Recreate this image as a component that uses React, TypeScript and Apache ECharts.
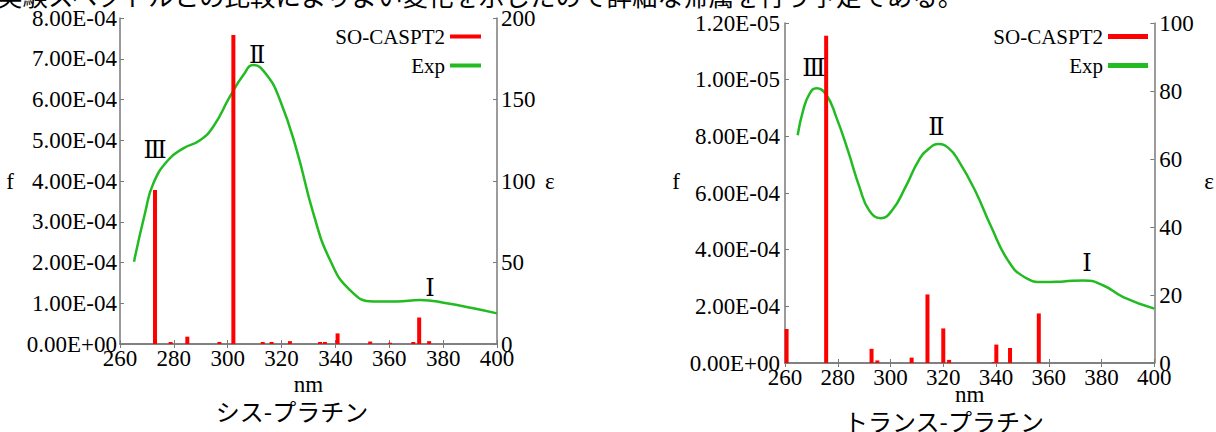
import React, { useEffect, useRef } from "react";
import * as echarts from "echarts";

// ---------- text ----------
const headerText = "実験スペクトルとの比較によりよい変化を示したので詳細な帰属を行う予定である。";
const cisTitle = "シス-プラチン";
const transTitle = "トランス-プラチン";
const seriesNames = ["SO-CASPT2", "Exp"];
const bandNames = ["Ⅲ", "Ⅱ", "Ⅰ"];

// ---------- tick labels ----------
const nmTickLabels = ["260", "280", "300", "320", "340", "360", "380", "400"];
const cisFTickLabels = ["0.00E+00", "1.00E-04", "2.00E-04", "3.00E-04", "4.00E-04", "5.00E-04", "6.00E-04", "7.00E-04", "8.00E-04"];
const cisEpsTickLabels = ["0", "50", "100", "150", "200"];
const transFTickLabels = ["0.00E+00", "2.00E-04", "4.00E-04", "6.00E-04", "8.00E-04", "1.00E-05", "1.20E-05"];
const transEpsTickLabels = ["0", "20", "40", "60", "80", "100"];

// ---------- cis-platin data ----------
const cisBarNm = [273.0, 278.8, 285.0, 296.9, 302.1, 313.0, 316.3, 323.1, 334.3, 336.1, 340.8, 352.9, 360.3, 368.9, 371.1, 374.8];
const cisBarF = [3.78e-4, 0.05e-4, 0.18e-4, 0.05e-4, 7.58e-4, 0.05e-4, 0.05e-4, 0.07e-4, 0.05e-4, 0.05e-4, 0.26e-4, 0.06e-4, 0.03e-4, 0.05e-4, 0.65e-4, 0.07e-4];
const cisExpNm = [265.2, 269.3, 272.4, 277.9, 283.5, 289.7, 294.6, 300.8, 305.8, 309.5, 314.5, 319.4, 325.6, 331.8, 338.0, 345.4, 354.1, 362.8, 371.4, 381.3, 391.2, 400.0];
const cisExpEps = [50.5, 80.4, 98.6, 112.9, 120.0, 125.0, 133.3, 151.7, 165.0, 171.2, 165.0, 149.7, 119.0, 80.2, 51.5, 33.1, 26.0, 26.0, 27.0, 25.0, 21.9, 18.8];
const cisBandNm = [273.0, 310.9, 375.1];
const cisBandEps = [119, 177, 34.4];

// ---------- trans-platin data (f in units of the axis labels, 1E-04) ----------
const transBarNm = [260.6, 275.6, 292.8, 295.0, 308.0, 314.0, 320.0, 322.2, 339.1, 340.1, 345.3, 356.2];
const transBarF = [1.2, 11.55, 0.5, 0.09, 0.19, 2.42, 1.22, 0.11, 0.03, 0.65, 0.53, 1.75];
const transExpNm = [264.8, 266.9, 269.4, 271.9, 275.7, 279.4, 283.8, 288.2, 291.9, 296.3, 300.6, 305.7, 310.7, 314.5, 318.2, 322.0, 325.7, 332.0, 338.2, 344.5, 350.7, 358.2, 365.7, 373.2, 380.7, 388.2, 400.0];
const transExpEps = [67.0, 74.4, 79.3, 80.8, 78.8, 72.4, 62.6, 51.8, 44.9, 42.6, 44.9, 51.8, 59.6, 63.0, 64.4, 63.2, 59.6, 50.8, 40.0, 30.2, 25.3, 23.8, 24.0, 24.3, 22.8, 19.4, 16.0];
const transBandNm = [270.9, 317.4, 374.5];
const transBandEps = [86.7, 69.4, 29.3];

const pairs = (xs: number[], ys: number[]) => xs.map((x, i) => [x, ys[i]]);

export default function App() {
  const ref = useRef<HTMLDivElement>(null);
  useEffect(() => {
    const chart = echarts.init(ref.current!, null, { renderer: "svg" });
    const serif = "'Liberation Serif', 'DejaVu Serif', serif";
    const cjk = "'Noto Sans CJK JP', sans-serif";
    const axisColor = "#7a7a7a";
    const red = "#ff0000";
    const green = "#22bb22";
    const tickRich = { s: { fontFamily: serif, fontSize: 23, color: "#000" } };

    const xAxisBottom = (gridIndex: number, nameGap: number) => ({
      type: "value",
      gridIndex,
      position: "bottom",
      min: 260,
      max: 400,
      interval: 20,
      name: "nm",
      nameLocation: "middle",
      nameGap,
      nameMoveOverlap: false,
      nameTextStyle: { fontFamily: serif, fontSize: 23, color: "#000", verticalAlign: "top" },
      axisLine: { lineStyle: { color: axisColor, width: 1.5 } },
      axisTick: { inside: true, length: 4, lineStyle: { color: axisColor } },
      splitLine: { show: false },
      axisLabel: {
        fontFamily: serif,
        fontSize: 23,
        color: "#000",
        margin: 3,
        rich: tickRich,
        formatter: (v: number) => `{s|${nmTickLabels[Math.round((v - 260) / 20)] ?? ""}}`,
      },
    });
    const xAxisTop = (gridIndex: number) => ({
      type: "value",
      gridIndex,
      position: "top",
      min: 260,
      max: 400,
      interval: 20,
      axisLine: { lineStyle: { color: axisColor, width: 1.5 } },
      axisTick: { inside: true, length: 4, lineStyle: { color: axisColor } },
      splitLine: { show: false },
      axisLabel: { show: false },
    });
    const yAxis = (
      gridIndex: number,
      position: string,
      max: number,
      interval: number,
      labels: string[],
      name: string,
      nameGap: number,
      margin: number,
      nameVAlign: string
    ) => ({
      type: "value",
      gridIndex,
      position,
      min: 0,
      max,
      interval,
      name,
      nameLocation: "middle",
      nameRotate: 0,
      nameGap,
      nameMoveOverlap: false,
      nameTextStyle: { fontFamily: serif, fontSize: 23, color: "#000", verticalAlign: nameVAlign },
      axisLine: { show: true, lineStyle: { color: axisColor, width: 1.5 } },
      axisTick: { show: true, inside: true, length: 4, lineStyle: { color: axisColor } },
      splitLine: { show: false },
      axisLabel: {
        fontFamily: serif,
        fontSize: 23,
        color: "#000",
        margin,
        rich: tickRich,
        formatter: (v: number) => `{s|${labels[Math.round(v / interval)] ?? ""}}`,
      },
    });

    const bandMarks = (nms: number[], eps: number[]) => ({
      symbol: "circle",
      symbolSize: 0,
      silent: true,
      label: {
        show: true,
        position: "inside",
        formatter: "{b}",
        fontFamily: serif,
        fontSize: 24,
        color: "#000",
      },
      data: nms.map((x, i) => ({ name: bandNames[i], coord: [x, eps[i]] })),
    });

    const legendBase = {
      orient: "vertical",
      align: "right",
      icon: "rect",
      itemGap: 8,
      textStyle: { fontFamily: serif, fontSize: 21, color: "#000" },
      data: seriesNames,
    };

    const lineCommon = {
      smooth: true,
      showSymbol: false,
      z: 2,
      itemStyle: { color: green },
      lineStyle: { color: green, width: 2.5 },
    };

    chart.setOption({
      animation: false,
      textStyle: { fontFamily: serif },
      grid: [
        { left: 120, top: 18, width: 377, height: 326 },
        { left: 785, top: 23, width: 373, height: 340 },
      ],
      xAxis: [xAxisBottom(0, 29), xAxisBottom(1, 20), xAxisTop(0), xAxisTop(1)],
      yAxis: [
        yAxis(0, "left", 8e-4, 1e-4, cisFTickLabels, "f", 106, 3, "middle"),
        yAxis(0, "right", 200, 50, cisEpsTickLabels, "ε", 48, 4, "middle"),
        yAxis(1, "left", 12, 2, transFTickLabels, "f", 105, 5, "bottom"),
        yAxis(1, "right", 100, 20, transEpsTickLabels, "ε", 50, 5, "bottom"),
      ],
      legend: [
        { ...legendBase, right: 730, top: 21, itemWidth: 31, itemHeight: 4 },
        { ...legendBase, right: 63, top: 21, itemWidth: 40, itemHeight: 5 },
      ],
      series: [
        {
          type: "bar",
          name: seriesNames[0],
          xAxisIndex: 0,
          yAxisIndex: 0,
          barWidth: 4,
          z: 3,
          itemStyle: { color: red },
          data: pairs(cisBarNm, cisBarF),
        },
        {
          type: "line",
          name: seriesNames[1],
          xAxisIndex: 0,
          yAxisIndex: 1,
          ...lineCommon,
          data: pairs(cisExpNm, cisExpEps),
          markPoint: bandMarks(cisBandNm, cisBandEps),
        },
        {
          type: "bar",
          name: seriesNames[0],
          xAxisIndex: 1,
          yAxisIndex: 2,
          barWidth: 4,
          z: 3,
          itemStyle: { color: red },
          data: pairs(transBarNm, transBarF),
        },
        {
          type: "line",
          name: seriesNames[1],
          xAxisIndex: 1,
          yAxisIndex: 3,
          ...lineCommon,
          data: pairs(transExpNm, transExpEps),
          markPoint: bandMarks(transBandNm, transBandEps),
        },
      ],
      graphic: [
        {
          type: "text",
          x: -3,
          y: -6,
          style: { text: headerText, font: `25.5px ${cjk}`, fill: "#000", textAlign: "left", textVerticalAlign: "middle" },
        },
        {
          type: "text",
          x: 292,
          y: 410,
          style: { text: cisTitle, font: `24px ${cjk}`, fill: "#000", textAlign: "center", textVerticalAlign: "middle" },
        },
        {
          type: "text",
          x: 944,
          y: 420,
          style: { text: transTitle, font: `24px ${cjk}`, fill: "#000", textAlign: "center", textVerticalAlign: "middle" },
        },
      ],
    });
    return () => chart.dispose();
  }, []);
  return (
    <div
      ref={ref}
      style={{ position: "absolute", left: 0, top: 0, width: 1216, height: 432, background: "#fff" }}
    />
  );
}
